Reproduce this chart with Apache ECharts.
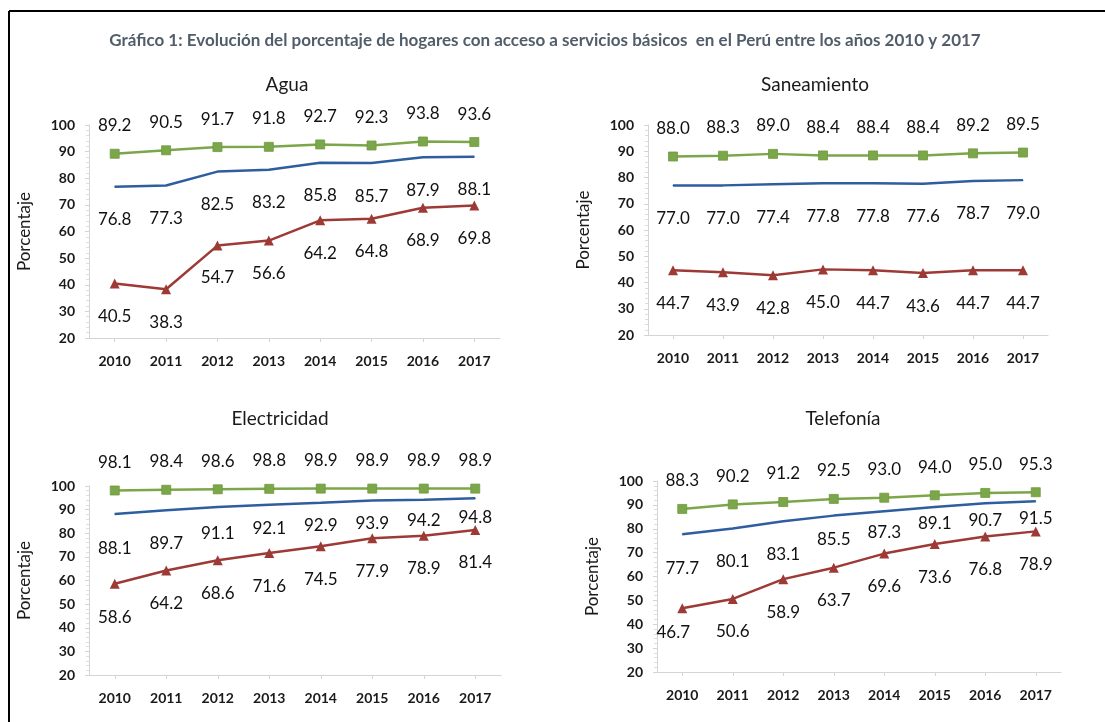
<!DOCTYPE html>
<html>
<head>
<meta charset="utf-8">
<script src="https://cdn.jsdelivr.net/npm/echarts@6/dist/echarts.min.js"></script>
<style>
html,body{margin:0;padding:0;background:#fff;}
#c{width:1105px;height:722px;}
</style>
</head>
<body>
<div id="c"></div>
<script>
const years = ['2010','2011','2012','2013','2014','2015','2016','2017'];
const mainTitle = 'Gráfico 1: Evolución del porcentaje de hogares con acceso a servicios básicos  en el Perú entre los años 2010 y 2017';
const panelTitles = ['Agua','Saneamiento','Electricidad','Telefonía'];
const yTicks = [20,30,40,50,60,70,80,90,100];

const aguaUrbano = [89.2,90.5,91.7,91.8,92.7,92.3,93.8,93.6];
const aguaTotal  = [76.8,77.3,82.5,83.2,85.8,85.7,87.9,88.1];
const aguaRural  = [40.5,38.3,54.7,56.6,64.2,64.8,68.9,69.8];

const saneUrbano = [88.0,88.3,89.0,88.4,88.4,88.4,89.2,89.5];
const saneTotal  = [77.0,77.0,77.4,77.8,77.8,77.6,78.7,79.0];
const saneRural  = [44.7,43.9,42.8,45.0,44.7,43.6,44.7,44.7];

const elecUrbano = [98.1,98.4,98.6,98.8,98.9,98.9,98.9,98.9];
const elecTotal  = [88.1,89.7,91.1,92.1,92.9,93.9,94.2,94.8];
const elecRural  = [58.6,64.2,68.6,71.6,74.5,77.9,78.9,81.4];

const telUrbano = [88.3,90.2,91.2,92.5,93.0,94.0,95.0,95.3];
const telTotal  = [77.7,80.1,83.1,85.5,87.3,89.1,90.7,91.5];
const telRural  = [46.7,50.6,58.9,63.7,69.6,73.6,76.8,78.9];

const panels = [
  {u: aguaUrbano, t: aguaTotal, r: aguaRural},
  {u: saneUrbano, t: saneTotal, r: saneRural},
  {u: elecUrbano, t: elecTotal, r: elecRural},
  {u: telUrbano,  t: telTotal,  r: telRural}
];

// label placement (pixels below the point), as in the reference layout
const blueLabelDy = [
  [33,33,33,33,33,33,33,33],
  [33,33,33,33,33,33,33,33],
  [34,33,26,24,23,23,21,19],
  [34,33,33,24,21,16,17,17]
];
const redLabelDx = [[0,0,0,0,0,0,0,0],[0,0,0,0,0,0,0,0],[0,0,0,0,0,0,0,0],[-9,0,0,0,0,0,0,0]];
const redLabelDy = [
  [33,33,32,33,33,33,33,33],
  [33,33,33,33,33,33,33,33],
  [34,33,33,33,33,33,33,33],
  [24,33,33,33,33,33,33,33]
];

const FONT = 'Lato, "Open Sans", sans-serif';
const GREEN = '#7ca64a', BLUE = '#2e5e9f', RED = '#9d3a35';

const gridPos = [
  {left: 89,  top: 125, width: 411, height: 213},
  {left: 648, top: 125, width: 400, height: 210},
  {left: 89,  top: 486, width: 412, height: 189},
  {left: 657, top: 481, width: 404, height: 191}
];
const titlePos = [[287,85],[815,85],[280,419],[843,419]];

const grids = [], xAxes = [], yAxes = [], series = [], graphics = [];

graphics.push({type:'line', shape:{x1:9, y1:11, x2:1105, y2:11}, style:{stroke:'#000', lineWidth:2}});
graphics.push({type:'line', shape:{x1:9, y1:11, x2:9, y2:722}, style:{stroke:'#000', lineWidth:2}});
graphics.push({type:'text', x:545, y:41, style:{text: mainTitle, fill:'#525d6a', font:'bold 17px ' + FONT, textAlign:'center', textVerticalAlign:'middle'}});

const baseLabel = {show:true, position:'inside', color:'#111', fontFamily:FONT, fontSize:17, formatter: (d) => d.value.toFixed(1)};

panels.forEach((p, i) => {
  grids.push(Object.assign({containLabel:false}, gridPos[i]));
  graphics.push({type:'text', x:titlePos[i][0], y:titlePos[i][1], style:{text: panelTitles[i], fill:'#1a1a1a', font:'19px ' + FONT, textAlign:'center', textVerticalAlign:'middle'}});
  xAxes.push({
    type:'category', gridIndex:i, data: years, boundaryGap:true,
    axisLine:{lineStyle:{color:'#d4d4d4', width:1}},
    axisTick:{show:true, alignWithLabel:true, length:4, lineStyle:{color:'#d4d4d4'}},
    axisLabel:{color:'#1a1a1a', fontFamily:FONT, fontWeight:'bold', fontSize:14, margin:16}
  });
  yAxes.push({
    type:'value', gridIndex:i, min: yTicks[0], max: yTicks[yTicks.length-1], interval:10,
    name:'Porcentaje', nameLocation:'middle', nameGap:56, nameRotate:90,
    nameTextStyle:{color:'#1a1a1a', fontFamily:FONT, fontSize:17},
    axisLine:{show:true, lineStyle:{color:'#d4d4d4', width:1}},
    axisTick:{show:true, length:4, lineStyle:{color:'#d4d4d4'}},
    minorTick:{show:true, splitNumber:5, length:3, lineStyle:{color:'#dedede'}},
    splitLine:{show:false},
    axisLabel:{color:'#1a1a1a', fontFamily:FONT, fontWeight:'bold', fontSize:14, margin:14}
  });
  series.push({
    type:'line', xAxisIndex:i, yAxisIndex:i, data:p.u, symbol:'rect', symbolSize:9,
    lineStyle:{color:GREEN, width:2.5}, itemStyle:{color:GREEN, borderColor:'#6d9a3c', borderWidth:0.8},
    label: Object.assign({}, baseLabel, {offset:[0,-28]}), emphasis:{disabled:true}, animation:false, z:3
  });
  series.push({
    type:'line', xAxisIndex:i, yAxisIndex:i, symbol:'circle', symbolSize:1,
    data: p.t.map((v, k) => ({value: v, label: {offset: [0, blueLabelDy[i][k]]}})),
    lineStyle:{color:BLUE, width:2.5}, itemStyle:{color:BLUE},
    label: baseLabel, emphasis:{disabled:true}, animation:false, z:2
  });
  series.push({
    type:'line', xAxisIndex:i, yAxisIndex:i, symbol:'triangle', symbolSize:10,
    data: p.r.map((v, k) => ({value: v, label: {offset: [redLabelDx[i][k], redLabelDy[i][k]]}})),
    lineStyle:{color:RED, width:2.5}, itemStyle:{color:RED},
    label: baseLabel, emphasis:{disabled:true}, animation:false, z:3
  });
});

const chart = echarts.init(document.getElementById('c'), null, {renderer:'canvas'});
chart.setOption({
  backgroundColor:'#fff',
  animation:false,
  grid: grids, xAxis: xAxes, yAxis: yAxes, series: series,
  graphic: graphics
});
</script>
</body>
</html>
